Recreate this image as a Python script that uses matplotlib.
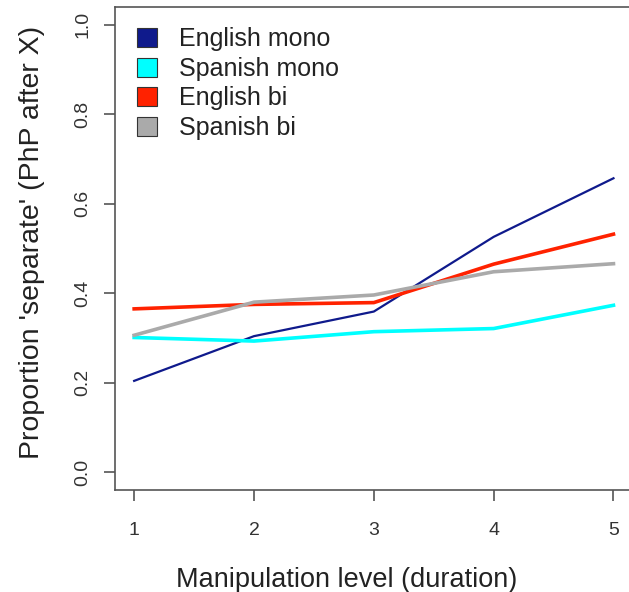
import matplotlib.pyplot as plt
from matplotlib.patches import Patch

plt.rcParams['font.family'] = ['Liberation Sans', 'DejaVu Sans']

levels = [1, 2, 3, 4, 5]
groups = ["English mono", "Spanish mono", "English bi", "Spanish bi"]
english_mono = [0.204, 0.304, 0.359, 0.526, 0.657]
spanish_mono = [0.301, 0.293, 0.314, 0.321, 0.373]
english_bi = [0.365, 0.375, 0.379, 0.465, 0.532]
spanish_bi = [0.306, 0.380, 0.396, 0.448, 0.466]
y_ticks = [0.0, 0.2, 0.4, 0.6, 0.8, 1.0]

colors = ["#0f1a8c", "#00ffff", "#ff2200", "#aaaaaa"]
widths = [1.6, 2.6, 2.6, 2.6]

fig = plt.figure(figsize=(6.29, 5.92), dpi=100)
ax = fig.add_axes([0.1828, 0.1723, 0.823, 0.8159])

series = [english_mono, spanish_mono, english_bi, spanish_bi]
for vals, c, w in zip(series, colors, widths):
    ax.plot(levels, vals, color=c, lw=w)

ax.set_xlim(0.84, 5.16)
ax.set_ylim(-0.04, 1.04)
ax.set_xticks(levels)
ax.set_xticklabels([str(v) for v in levels])
ax.set_yticks(y_ticks)
ax.set_yticklabels([f"{v:.1f}" for v in y_ticks], rotation=90, va="center")

for s in ax.spines.values():
    s.set_color("#555555")
    s.set_linewidth(1.2)
ax.tick_params(axis="both", length=8, width=1.2, color="#555555",
               labelsize=14, labelcolor="#333333")
ax.tick_params(axis="x", pad=15)
ax.tick_params(axis="y", pad=9)

ax.set_xlabel("Manipulation level (duration)", fontsize=19.5, color="#222222", va="center")
ax.xaxis.set_label_coords(0.448, -0.186)
ax.set_ylabel("Proportion 'separate' (PhP after X)", fontsize=20.5, color="#222222", va="center")
ax.yaxis.set_label_coords(-0.160, 0.512)

handles = [Patch(facecolor=c, edgecolor="#333333", linewidth=0.8) for c in colors]
ax.legend(handles, groups, loc="upper left", bbox_to_anchor=(0.0425, 0.958),
          frameon=False, fontsize=18, handlelength=0.8, handleheight=0.8,
          handletextpad=0.9, labelspacing=0.22, borderpad=0.0, borderaxespad=0.0,
          labelcolor="#222222")

fig.savefig("out.png", dpi=100)
